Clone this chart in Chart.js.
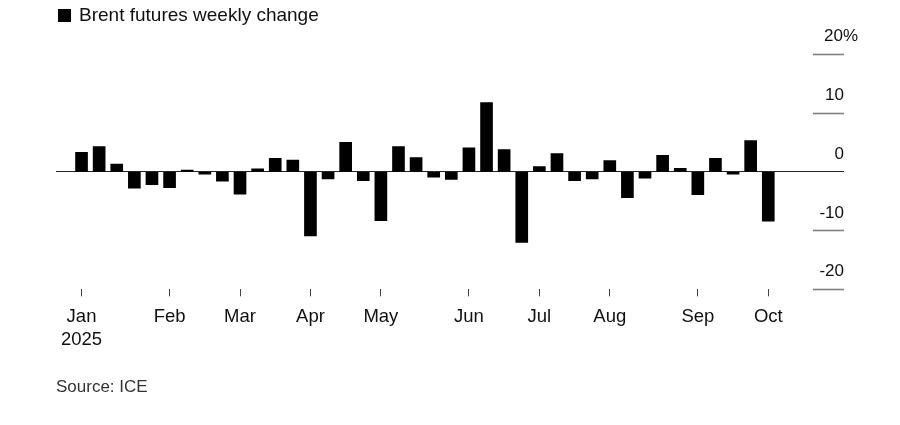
<!DOCTYPE html>
<html>
<head>
<meta charset="utf-8">
<script src="https://cdn.jsdelivr.net/npm/chart.js@4"></script>
<style>
  body { margin: 0; background: #fff; font-family: "Liberation Sans", Arial, sans-serif; }
  #wrap { position: relative; width: 900px; height: 425px; }
  #grafico { position: absolute; left: 0; top: 0; }
  #legenda { position: absolute; left: 58px; top: 4px; font-size: 19px; line-height: 22px; color: #111; }
  #legenda span { display: inline-block; width: 13px; height: 13px; background: #000; margin-right: 8px; vertical-align: -1px; }
  #fonte { position: absolute; left: 56px; top: 377px; font-size: 17px; line-height: 20px; color: #333; }
</style>
</head>
<body>
<div id="wrap">
  <canvas id="grafico" width="900" height="425"></canvas>
  <div id="legenda"><span></span>Brent futures weekly change</div>
  <div id="fonte">Source: ICE</div>
</div>
<script>
// variação semanal do Brent (%), uma barra por semana
const variacao = [
  3.3, 4.3, 1.3, -2.8, -2.2, -2.7, 0.3, -0.4, -1.6, -3.8,
  0.5, 2.3, 2.0, -10.9, -1.2, 5.0, -1.5, -8.3, 4.3, 2.4,
  -0.9, -1.3, 4.1, 11.8, 3.8, -12.0, 0.9, 3.1, -1.5, -1.2,
  1.9, -4.4, -1.1, 2.8, 0.6, -3.9, 2.3, -0.4, 5.3, -8.4
];

// semana onde cada mês começa
const mesSemana = [1, 6, 10, 14, 18, 23, 27, 31, 36, 40];
const mesNome = [["Jan", "2025"], "Feb", "Mar", "Apr", "May", "Jun", "Jul", "Aug", "Sep", "Oct"];

const yTicks = [20, 10, 0, -10, -20];
const yTopo = 20; // esse leva o "%", que fica pendurado à direita

const pontos = variacao.map((v, i) => ({ x: i + 1, y: v }));

const fonteEixo = { family: "'Liberation Sans', Arial", size: 17 };

new Chart(document.getElementById("grafico"), {
  type: "bar",
  data: {
    datasets: [
      { label: "Brent futures weekly change", data: pontos, backgroundColor: "#000", barThickness: 12 }
    ]
  },
  options: {
    responsive: false,
    animation: false,
    layout: { padding: { left: 56, right: 56, top: 54.3, bottom: 0 } },
    plugins: { legend: { display: false }, tooltip: { enabled: false } },
    scales: {
      x: {
        type: "linear",
        min: -0.45,
        max: 42.54,
        offset: false,
        border: { display: false },
        grid: { offset: false, drawOnChartArea: false, drawTicks: true, tickLength: 7, tickColor: "#444", tickWidth: 1 },
        afterBuildTicks: (scale) => { scale.ticks = mesSemana.map(v => ({ value: v })); },
        afterFit: (scale) => { scale.height = 425 - 289.3; },
        ticks: {
          autoSkip: false,
          maxRotation: 0,
          padding: 9,
          color: "#111",
          font: { family: "'Liberation Sans', Arial", size: 18.5, lineHeight: 1.25 },
          callback: (value) => mesNome[mesSemana.indexOf(value)]
        }
      },
      y: {
        position: "right",
        min: -20,
        max: 20,
        border: { display: false },
        afterBuildTicks: (scale) => { scale.ticks = yTicks.map(v => ({ value: v })); },
        afterFit: (scale) => { scale.width = 31; },
        grid: {
          drawOnChartArea: true,
          drawTicks: true,
          tickLength: 31,
          color: (ctx) => ctx.tick && ctx.tick.value === 0 ? "#222" : "rgba(0,0,0,0)",
          lineWidth: 1,
          tickColor: (ctx) => ctx.tick && ctx.tick.value === 0 ? "#222" : "#808080",
          tickWidth: (ctx) => ctx.tick && ctx.tick.value === 0 ? 1 : 1.6
        },
        ticks: {
          mirror: true,
          padding: 31,
          labelOffset: -17.5,
          color: "#111",
          font: fonteEixo,
          callback: (value) => value === yTopo ? "" : value
        }
      },
      // só o rótulo "20%", alinhado pelos números
      yPct: {
        position: "right",
        min: -20,
        max: 20,
        border: { display: false },
        grid: { display: false },
        afterBuildTicks: (scale) => { scale.ticks = [{ value: yTopo }]; },
        afterFit: (scale) => { scale.width = 0; },
        ticks: {
          mirror: true,
          crossAlign: "far",
          padding: 14,
          labelOffset: -17.5,
          color: "#111",
          font: fonteEixo,
          callback: (value) => value + "%"
        }
      }
    }
  }
});
</script>
</body>
</html>
